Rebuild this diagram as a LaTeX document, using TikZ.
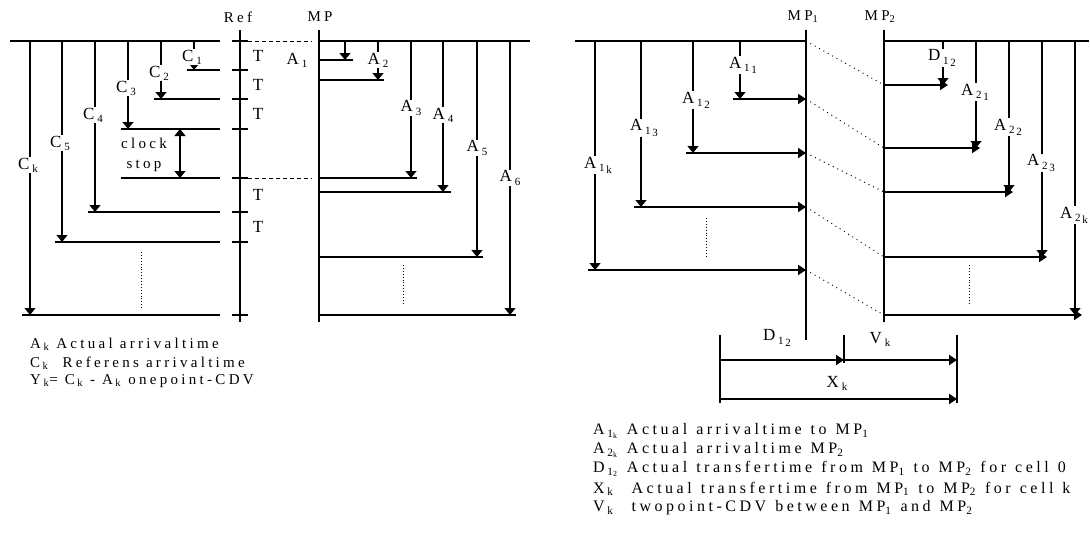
\documentclass[tikz,border=0pt]{standalone}
\usepackage{fontspec}
\setmainfont{Liberation Serif}
\newfontfamily\spaced[LetterSpace=22]{Liberation Serif}
\usetikzlibrary{arrows.meta}
\newcommand{\idx}[1]{\textsubscript{#1}}
\newcommand{\low}[1]{\raisebox{-0.4ex}{\fontsize{11}{12}\selectfont#1}}
\newcommand{\widen}{\spaceskip=1.2\fontdimen2\font plus 1pt minus 0pt\relax}
\tikzset{
  axis/.style={line width=2.4pt},
  level/.style={line width=2.1pt},
  tick/.style={line width=2pt},
  arr/.style={line width=1.3pt,-{Triangle[width=11pt,length=7pt]}},
  harr/.style={line width=1.8pt,-{Triangle[width=10pt,length=8pt]}},
  darr/.style={line width=1.5pt,{Triangle[width=11pt,length=7pt]}-{Triangle[width=11pt,length=7pt]}},
  lbl/.style={font=\spaced\fontsize{17}{19}\selectfont,fill=white,inner sep=1pt},
  ttl/.style={font=\spaced\fontsize{15}{17}\selectfont,inner sep=1pt},
  leg/.style={font=\spaced\fontsize{15}{17}\selectfont,anchor=west,inner sep=0pt},
  legw/.style={leg,font=\spaced\fontsize{16}{18}\selectfont\widen},
  gap/.style={line width=0.9pt,dotted},
  link/.style={line width=0.9pt,dash pattern=on 1pt off 4pt},
  sync/.style={line width=0.9pt,dash pattern=on 4pt off 3pt},
}
\begin{document}
\begin{tikzpicture}[x=1pt,y=-1pt]
  \useasboundingbox (0,0) rectangle (1090,538);
  % reference clock
  \node[ttl] (ref) at (238,17) {Ref};
  \coordinate (reftop) at (240,30);
  \coordinate (refbot) at (240,322);
  \draw[axis] (reftop) -- (refbot);
  \foreach \y in {41,70,99,129,178,212,242,315}
    \draw[tick] (232,\y) -- (248,\y);
  \foreach \y/\t in {56/1,85/2,114/3,195/4,227/5}
    \node[lbl,fill=none] (t\t) at (258,\y) {T};
  \draw[level] (10,41) -- (220,41);
  \foreach \x/\y in {187/70,154/99,121/129,121/178,88/212,55/242,22/315}
    \draw[level] (\x,\y) -- (220,\y);
  \foreach \x/\y/\ly/\n in {194/70/57/1,161/99/73/2,128/129/88/3,95/212/115/4,62/242/143/5,30/315/165/k}{
    \draw[arr] (\x,41) -- (\x,\y);
    \node[lbl] (c\n) at (\x-2,\ly) {C\,\low{\n}};
  }
  \draw[darr] (180,129) -- (180,178);
  \node[ttl,align=center,font=\spaced\fontsize{15}{20}\selectfont] (stop) at (144,155) {clock\\stop};
  \draw[gap] (141,252) -- (141,308);
  \draw[sync] (248,41) -- (312,41);
  \draw[sync] (248,178) -- (312,178);
  % measuring point
  \node[ttl] (mp) at (320,17) {MP};
  \draw[axis] (319,30) -- (319,322);
  \draw[level] (319,41) -- (530,41);
  \foreach \x/\y in {353/60,384/80,417/178,451/192,483/257,516/315}
    \draw[level] (319,\y) -- (\x,\y);
  \draw[arr] (345,41) -- (345,60);
  \node[lbl,fill=none] (a1) at (297,60) {A\,\low{1}};
  \foreach \x/\y/\ly/\n in {378/80/60/2,411/178/108/3,443/192/115/4,477/257/148/5,510/315/178/6}{
    \draw[arr] (\x,41) -- (\x,\y);
    \node[lbl] (a\n) at (\x,\ly) {A\,\low{\n}};
  }
  \draw[gap] (403,265) -- (403,303);
  \node[leg] (legA) at (30,344) {A\,\idx{k} Actual arrivaltime};
  \node[leg] (legC) at (30,363) {C\,\idx{k}\ \ Referens arrivaltime};
  \node[leg] (legY) at (30,381) {Y\,\idx{k}= C\,\idx{k} - A\,\idx{k} onepoint-CDV};
  % two measuring points
  \node[ttl] (mp1) at (803,17) {MP\idx{1}};
  \node[ttl] (mp2) at (880,17) {MP\idx{2}};
  \draw[axis] (806,30) -- (806,340);
  \draw[axis] (884,30) -- (884,322);
  \draw[level] (575,41) -- (806,41);
  \draw[level] (884,41) -- (1089,41);
  \foreach \x/\y/\ly/\n in {740/99/65/1,693/153/100/2,641/207/128/3,595/270/165/k}{
    \draw[arr] (\x,41) -- (\x,\y);
    \draw[harr] (\x-7,\y) -- (806,\y);
    \node[lbl] (b\n) at (\x+3,\ly) {A\,\low{1\,\low{\n}}};
  }
  \draw[gap] (706,218) -- (706,258);
  \foreach \y/\z/\x in {41/85/948,99/148/980,153/192/1013,207/257/1047,270/315/1082}{
    \draw[link] (806,\y) -- (884,\z);
    \draw[harr] (884,\z) -- (\x,\z);
  }
  \draw[arr] (943,41) -- (943,85);
  \node[lbl] (d12) at (942,58) {D\,\low{1\,\low{2}}};
  \foreach \x/\y/\ly/\n in {976/148/92/1,1009/192/127/2,1042/257/163/3,1075/315/215/k}{
    \draw[arr] (\x,41) -- (\x,\y);
    \node[lbl] (e\n) at (\x-1,\ly) {A\,\low{2\,\low{\n}}};
  }
  \draw[gap] (969,265) -- (969,303);
  % transfer time
  \draw[axis] (720,335) -- (720,403);
  \draw[axis] (844,335) -- (844,363);
  \draw[axis] (957,335) -- (957,403);
  \draw[harr] (720,360) -- (844,360);
  \draw[harr] (844,360) -- (957,360);
  \draw[harr] (720,399) -- (957,399);
  \node[lbl,fill=none] (dd) at (777,338) {D\,\low{1\,\low{2}}};
  \node[lbl,fill=none] (vk) at (880,339) {V\,\low{k}};
  \node[lbl,fill=none] (xk) at (837,383) {X\,\low{k}};
  \node[legw] (leg1) at (593,431) {A\,\idx{1\idx{k}} Actual arrivaltime to MP\idx{1}};
  \node[legw] (leg2) at (593,450) {A\,\idx{2\idx{k}} Actual arrivaltime MP\idx{2}};
  \node[legw] (leg3) at (593,469) {D\,\idx{1\idx{2}} Actual transfertime from MP\idx{1} to MP\idx{2} for cell 0};
  \node[legw] (leg4) at (593,489) {X\,\idx{k}\ \ Actual transfertime from MP\idx{1} to MP\idx{2} for cell k};
  \node[legw] (leg5) at (593,508) {V\,\idx{k}\ \ twopoint-CDV between MP\idx{1} and MP\idx{2}};
\end{tikzpicture}
\end{document}
